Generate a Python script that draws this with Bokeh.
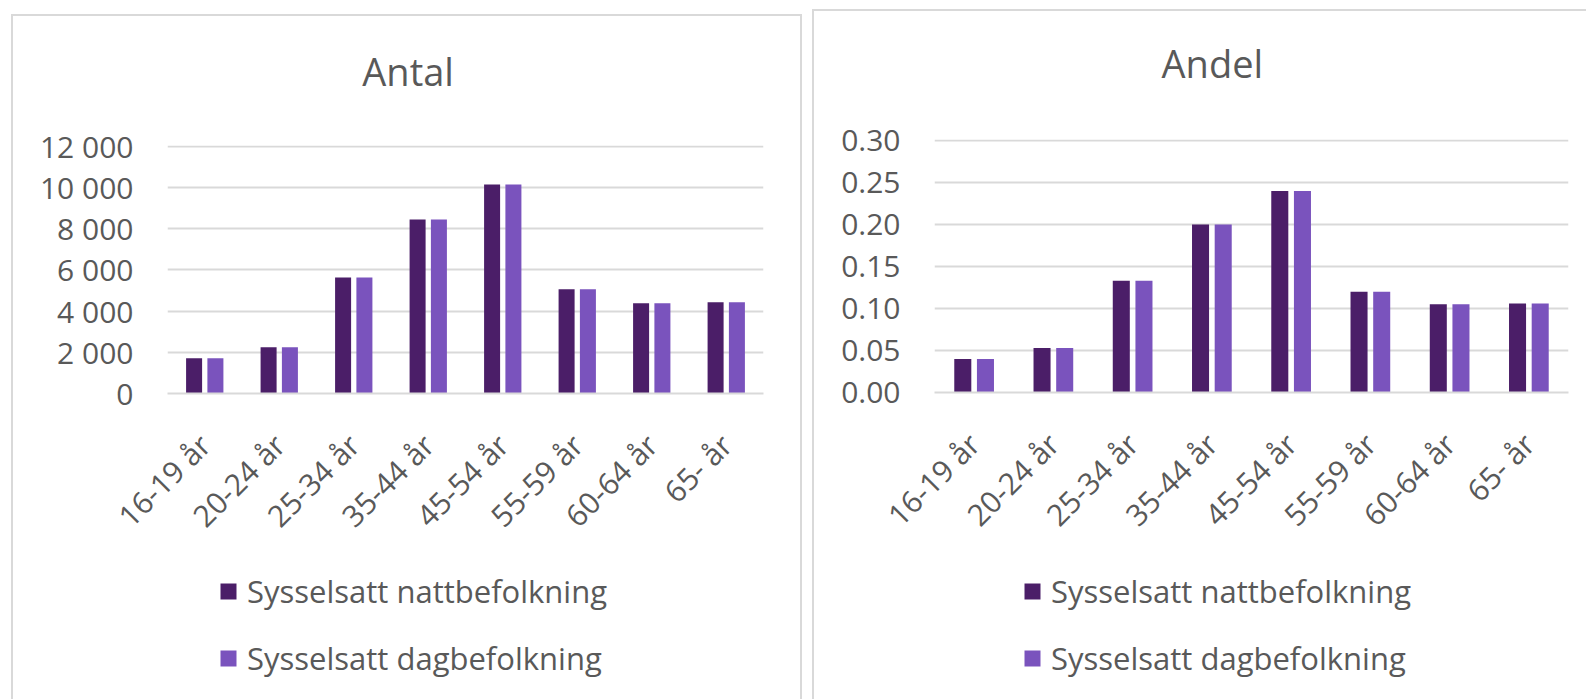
import math
from bokeh.plotting import figure
from bokeh.models import (Range1d, FactorRange, FixedTicker, Spacer, ColumnDataSource,
                          Legend, LegendItem, Label)
from bokeh.layouts import row, column
from bokeh.transform import dodge
from bokeh.embed import file_html
from bokeh.resources import INLINE

# ---- data ----
age_groups = ["16-19 år", "20-24 år", "25-34 år", "35-44 år",
              "45-54 år", "55-59 år", "60-64 år", "65- år"]
antal_natt = [1715, 2250, 5630, 8450, 10150, 5065, 4385, 4430]
antal_dag = [1715, 2250, 5630, 8450, 10150, 5065, 4385, 4430]
andel_natt = [0.040, 0.053, 0.133, 0.200, 0.240, 0.120, 0.105, 0.106]
andel_dag = [0.040, 0.053, 0.133, 0.200, 0.240, 0.120, 0.105, 0.106]
series_names = ["Sysselsatt nattbefolkning", "Sysselsatt dagbefolkning"]
panel_titles = ["Antal", "Andel"]
antal_ticks = [0, 2000, 4000, 6000, 8000, 10000, 12000]
antal_tick_labels = ["0", "2 000", "4 000", "6 000", "8 000", "10 000", "12 000"]
andel_ticks = [0.0, 0.05, 0.10, 0.15, 0.20, 0.25, 0.30]
andel_tick_labels = ["0.00", "0.05", "0.10", "0.15", "0.20", "0.25", "0.30"]

DARK = "#4b1e68"
LIGHT = "#7a53bd"
TXT = "#595959"
GRID = "#d9d9d9"
FONT = "Open Sans"
BAR_W = 0.215
OFF = 0.143


def add_bars(p, src, flat=False):
    r1 = p.vbar(x=dodge("age", -OFF, range=p.x_range), top="natt",
                bottom=("natt" if flat else 0), width=BAR_W,
                source=src, fill_color=DARK, line_color=None)
    r2 = p.vbar(x=dodge("age", OFF, range=p.x_range), top="dag",
                bottom=("dag" if flat else 0), width=BAR_W,
                source=src, fill_color=LIGHT, line_color=None)
    return r1, r2


def bare_figure(width, height, y_end, styles):
    p = figure(x_range=FactorRange(*age_groups), y_range=Range1d(0, y_end),
               width=width, height=height, min_border=0,
               x_axis_location=None, y_axis_location=None,
               output_backend="svg", toolbar_location=None)
    p.grid.visible = False
    p.outline_line_color = None
    p.background_fill_color = "white"
    p.border_fill_color = "white"
    p.styles = styles
    return p


def make_title(title, width, height, canvas_h, title_x, baseline_from_bottom, styles):
    p = bare_figure(width, height, canvas_h, styles)
    p.add_layout(Label(x=title_x, y=baseline_from_bottom, text=title,
                       text_align="center", text_baseline="alphabetic",
                       text_font=FONT, text_font_size="38px", text_color=TXT))
    return p


def make_chart(natt, dag, ticks, tick_labels, width, height,
               mbl, mbr, mbt, mbb, styles):
    src = ColumnDataSource(dict(age=age_groups, natt=natt, dag=dag))
    p = figure(x_range=FactorRange(*age_groups),
               y_range=Range1d(ticks[0], ticks[-1] * 1.004),
               width=width, height=height,
               min_border_left=mbl, min_border_right=mbr,
               min_border_top=mbt, min_border_bottom=mbb,
               output_backend="svg", toolbar_location=None)
    add_bars(p, src)
    p.outline_line_color = None
    p.background_fill_color = "white"
    p.border_fill_color = "white"
    p.xgrid.grid_line_color = None
    p.ygrid.grid_line_color = GRID
    p.ygrid.grid_line_width = 2

    p.yaxis.ticker = FixedTicker(ticks=ticks)
    p.yaxis.major_label_overrides = dict(zip(ticks, tick_labels))
    p.yaxis.axis_line_color = None
    p.yaxis.major_tick_line_color = None
    p.yaxis.minor_tick_line_color = None
    p.yaxis.major_tick_out = 0
    p.yaxis.minor_tick_out = 0
    p.yaxis.major_label_standoff = 34
    p.yaxis.major_label_text_font = FONT
    p.yaxis.major_label_text_font_size = "30px"
    p.yaxis.major_label_text_color = TXT

    p.xaxis.axis_line_color = GRID
    p.xaxis.axis_line_width = 2
    p.xaxis.major_tick_line_color = None
    p.xaxis.minor_tick_line_color = None
    p.xaxis.major_tick_out = 0
    p.xaxis.minor_tick_out = 0
    p.xaxis.major_label_orientation = math.pi / 4
    p.xaxis.major_label_standoff = 46
    p.xaxis.major_label_text_font = FONT
    p.xaxis.major_label_text_font_size = "30px"
    p.xaxis.major_label_text_color = TXT
    p.styles = styles
    return p


def make_legend(natt, dag, width, height, loc, styles):
    # legend strip below each chart; its bars have zero height
    p = bare_figure(width, height, 2 * max(natt + dag), styles)
    src = ColumnDataSource(dict(age=age_groups, natt=natt, dag=dag))
    r1, r2 = add_bars(p, src, flat=True)
    lg = Legend(items=[LegendItem(label=series_names[0], renderers=[r1]),
                       LegendItem(label=series_names[1], renderers=[r2])])
    lg.location = loc
    lg.orientation = "vertical"
    lg.label_text_font = FONT
    lg.label_text_font_size = "31px"
    lg.label_text_color = TXT
    lg.glyph_width = 20
    lg.glyph_height = 20
    lg.label_height = 20
    lg.label_standoff = 9
    lg.spacing = 25
    lg.padding = 0
    lg.margin = 0
    lg.border_line_color = None
    lg.background_fill_alpha = 0
    p.add_layout(lg, "center")
    return p


border = "2px solid " + GRID
lr = {"border-left": border, "border-right": border}
t1 = make_title(panel_titles[0], 791, 106, 104, 3.23, 51,
                {"border-left": border, "border-top": border, "border-right": border})
c1 = make_chart(antal_natt, antal_dag, antal_ticks, antal_tick_labels,
                791, 440, 154, 41, 25, 167, lr)
l1 = make_legend(antal_natt, antal_dag, 791, 139, (51, 20), lr)

t2 = make_title(panel_titles[1], 774, 111, 109, 3.506, 58,
                {"border-left": border, "border-top": border})
c2 = make_chart(andel_natt, andel_dag, andel_ticks, andel_tick_labels,
                774, 440, 120, 20, 19, 168, {"border-left": border})
l2 = make_legend(andel_natt, andel_dag, 774, 139, (88, 20), {"border-left": border})

layout = row(Spacer(width=11),
             column(Spacer(height=14), t1, c1, l1),
             Spacer(width=10),
             column(Spacer(height=9), t2, c2, l2))

open("out.html", "w").write(file_html(layout, INLINE))
